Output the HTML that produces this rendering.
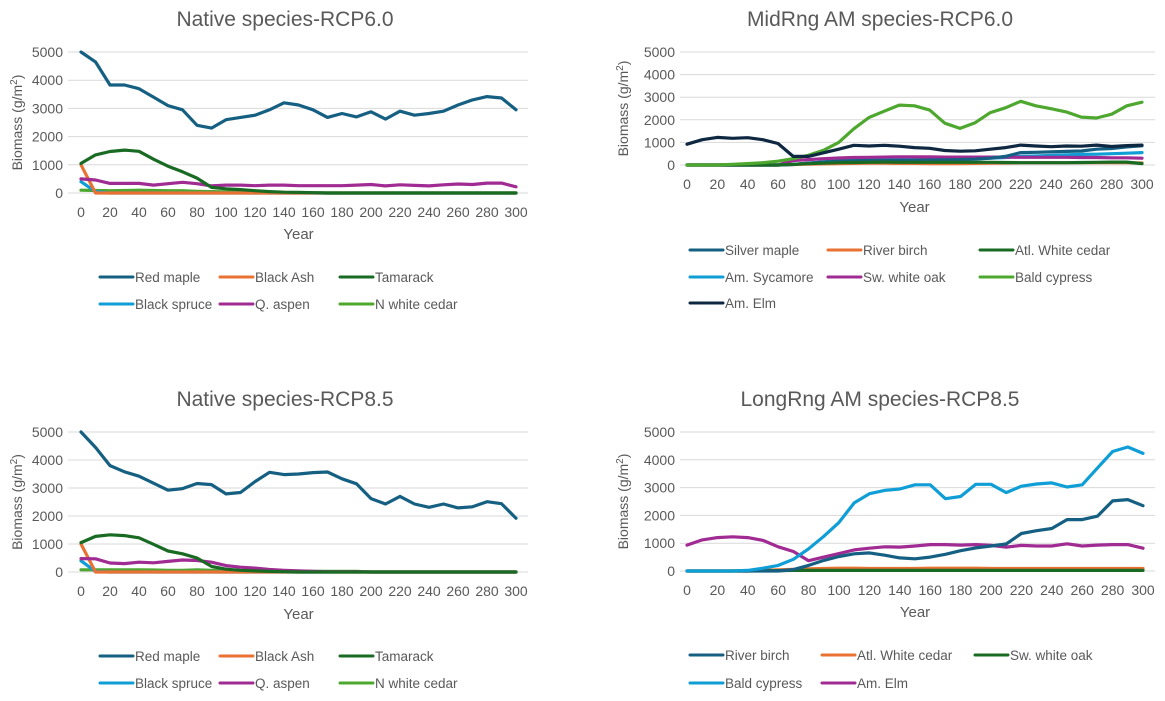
<!DOCTYPE html>
<html><head><meta charset="utf-8"><style>
body{margin:0;background:#fff;font-family:"Liberation Sans",sans-serif;}
svg{display:block}
text{font-family:"Liberation Sans",sans-serif;}
</style></head><body>
<svg id="svg" width="1165" height="701" viewBox="0 0 1165 701" xmlns="http://www.w3.org/2000/svg"></svg>
<script>
const years=[0,10,20,30,40,50,60,70,80,90,100,110,120,130,140,150,160,170,180,190,200,210,220,230,240,250,260,270,280,290,300];
const yTicks=[0,1000,2000,3000,4000,5000];
const xTicks=[0,20,40,60,80,100,120,140,160,180,200,220,240,260,280,300];
// Chart 1: Native species RCP6.0
const c1RedMaple=[5000,4650,3830,3830,3700,3400,3100,2950,2400,2300,2600,2680,2760,2950,3200,3120,2950,2680,2820,2700,2880,2620,2900,2760,2820,2900,3120,3300,3420,3370,2950];
const c1BlackAsh=[1000,0,0,0,0,0,0,0,0,0,0,0,0,0,0,0,0,0,0,0,0,0,0,0,0,0,0,0,0,0,0];
const c1Tamarack=[1050,1350,1470,1520,1480,1200,950,750,530,200,150,120,80,50,30,20,10,0,0,0,0,0,0,0,0,0,0,0,0,0,0];
const c1BlackSpruce=[400,50,0,0,0,0,0,0,0,0,0,0,0,0,0,0,0,0,0,0,0,0,0,0,0,0,0,0,0,0,0];
const c1Aspen=[500,460,340,340,340,280,330,380,330,250,280,280,260,280,280,260,260,260,260,280,300,250,290,270,250,290,320,300,350,350,220];
const c1Cedar=[100,90,80,90,100,90,80,80,60,50,40,30,20,20,10,10,10,0,0,0,0,0,0,0,0,0,0,0,0,0,0];
// Chart 2: MidRng AM RCP6.0
const c2SilverMaple=[0,0,0,0,0,0,0,20,80,130,170,190,200,200,200,210,220,230,240,260,300,380,550,560,580,600,620,700,730,800,850];
const c2RiverBirch=[0,0,0,0,0,0,0,20,40,50,60,70,80,80,70,70,60,60,60,70,80,90,100,100,100,100,100,100,100,100,90];
const c2AtlCedar=[0,0,0,0,0,0,0,30,60,80,100,110,120,130,120,120,120,120,120,120,120,110,100,100,100,100,110,120,130,130,60];
const c2Sycamore=[0,0,0,0,0,0,0,30,80,140,200,220,240,250,250,260,270,270,280,290,300,330,380,400,420,450,470,480,500,520,550];
const c2WhiteOak=[0,0,0,0,0,0,0,200,240,280,310,330,340,350,360,360,360,350,350,350,350,350,340,340,340,340,330,330,320,320,300];
const c2BaldCypress=[0,0,0,30,60,100,170,280,430,650,1000,1600,2100,2380,2650,2620,2430,1850,1620,1870,2320,2530,2820,2620,2490,2350,2120,2080,2250,2620,2780];
const c2AmElm=[920,1120,1220,1180,1210,1120,950,380,380,540,700,870,840,870,830,770,740,640,610,630,700,770,880,840,810,840,830,880,820,860,880];
// Chart 3: Native species RCP8.5
const c3RedMaple=[5000,4450,3800,3580,3420,3170,2920,2980,3160,3120,2790,2840,3230,3560,3480,3500,3550,3570,3330,3150,2620,2430,2700,2430,2310,2430,2290,2330,2510,2440,1920];
const c3BlackAsh=[1000,0,0,0,0,0,0,0,0,0,0,0,0,0,0,0,0,0,0,0,0,0,0,0,0,0,0,0,0,0,0];
const c3Tamarack=[1050,1270,1330,1300,1220,990,750,650,500,200,100,60,40,20,10,0,0,0,0,0,0,0,0,0,0,0,0,0,0,0,0];
const c3BlackSpruce=[400,20,0,0,0,0,0,0,0,0,0,0,0,0,0,0,0,0,0,0,0,0,0,0,0,0,0,0,0,0,0];
const c3Aspen=[480,470,320,300,350,330,380,430,410,350,230,170,140,90,60,40,20,10,10,10,0,0,0,0,0,0,0,0,0,0,0];
const c3Cedar=[80,80,80,80,80,70,60,60,80,60,60,50,40,40,30,30,20,20,20,20,0,0,0,0,0,0,0,0,0,0,0];
// Chart 4: LongRng AM RCP8.5
const c4RiverBirch=[0,0,0,0,0,0,0,50,200,380,520,620,650,570,470,440,500,600,730,830,900,970,1350,1450,1530,1850,1850,1970,2520,2570,2350];
const c4AtlCedar=[0,0,0,0,0,20,40,60,80,90,100,100,90,90,90,90,100,100,100,100,90,90,90,90,90,90,90,90,90,90,90];
const c4WhiteOak=[0,0,0,0,0,10,15,20,20,20,20,20,20,20,20,20,20,20,20,20,20,20,20,20,20,20,20,20,20,20,20];
const c4BaldCypress=[0,0,0,0,20,100,200,420,800,1250,1750,2450,2780,2900,2950,3100,3100,2600,2680,3120,3120,2820,3050,3130,3170,3020,3100,3700,4300,4460,4230];
const c4AmElm=[930,1120,1200,1230,1200,1100,870,700,370,500,630,760,820,870,860,900,950,950,930,950,920,860,920,900,900,980,900,930,950,950,820];

const C={dk:'#156082',or:'#E97132',dg:'#196B24',lb:'#0F9ED5',pu:'#A02B93',gr:'#4EA72E',nv:'#0E2841'};
const NS='http://www.w3.org/2000/svg';
const svg=document.getElementById('svg');
function mk(tag,attrs,parent){const e=document.createElementNS(NS,tag);for(const k in attrs)e.setAttribute(k,attrs[k]);(parent||svg).appendChild(e);return e;}

const charts=[
 {id:'native-rcp60',title:'Native species-RCP6.0',x0:81,x1:516,y0:193,y5:52,gl:68,gr:528,yearY:239,ytX:22,tx:285,
  series:[['Red maple',c1RedMaple,C.dk],['Black Ash',c1BlackAsh,C.or],['Tamarack',c1Tamarack,C.dg],['Black spruce',c1BlackSpruce,C.lb],['Q. aspen',c1Aspen,C.pu],['N  white cedar',c1Cedar,C.gr]],
  draw:[5,3,1,4,2,0],legX:[100,220,340],legY:[277,304],cols:3},
 {id:'midrng-rcp60',title:'MidRng AM species-RCP6.0',x0:687,x1:1142,y0:165,y5:52,gl:680,gr:1155,yearY:212,ytX:628,tx:880,
  series:[['Silver maple',c2SilverMaple,C.dk],['River birch',c2RiverBirch,C.or],['Atl. White cedar',c2AtlCedar,C.dg],['Am. Sycamore',c2Sycamore,C.lb],['Sw. white oak',c2WhiteOak,C.pu],['Bald cypress',c2BaldCypress,C.gr],['Am. Elm',c2AmElm,C.nv]],
  draw:[1,3,4,0,2,5,6],legX:[690,828,980],legY:[250,277,303],cols:3},
 {id:'native-rcp85',title:'Native species-RCP8.5',x0:81,x1:516,y0:572,y5:432,gl:68,gr:528,yearY:619,ytX:22,tx:285,
  series:[['Red maple',c3RedMaple,C.dk],['Black Ash',c3BlackAsh,C.or],['Tamarack',c3Tamarack,C.dg],['Black spruce',c3BlackSpruce,C.lb],['Q. aspen',c3Aspen,C.pu],['N  white cedar',c3Cedar,C.gr]],
  draw:[5,3,1,4,2,0],legX:[100,220,340],legY:[656,683],cols:3},
 {id:'longrng-rcp85',title:'LongRng AM species-RCP8.5',x0:687,x1:1143,y0:571,y5:432,gl:680,gr:1155,yearY:617,ytX:628,tx:880,
  series:[['River birch',c4RiverBirch,C.dk],['Atl. White cedar',c4AtlCedar,C.or],['Sw. white oak',c4WhiteOak,C.dg],['Bald cypress',c4BaldCypress,C.lb],['Am. Elm',c4AmElm,C.pu]],
  draw:[1,2,4,0,3],legX:[690,822,975],legY:[655,683],cols:3}
];

charts.forEach(ch=>{
  const g=mk('g',{});
  
  
  const xS=v=>ch.x0+(v-0)/300*(ch.x1-ch.x0);
  const yS=v=>ch.y0-(v/5000)*(ch.y0-ch.y5);
  const t=mk('text',{x:ch.tx,y:ch.y5-26,'text-anchor':'middle','font-size':21,fill:'#595959'},g);
  t.textContent=ch.title;
  
  
  yTicks.forEach(v=>{
    const l=mk('line',{x1:ch.gl,x2:ch.gr,y1:yS(v),y2:yS(v),stroke:'#d9d9d9','stroke-width':1},g);
    
    
    const tx=mk('text',{x:ch.gl-5,y:yS(v)+5,'text-anchor':'end','font-size':14,fill:'#595959'},g);
    tx.textContent=v;
    
    
  });
  xTicks.forEach(v=>{
    const tx=mk('text',{x:xS(v),y:ch.y0+24,'text-anchor':'middle','font-size':14,fill:'#595959'},g);
    tx.textContent=v;
    
    
  });
  const yt=mk('text',{x:0,y:0,transform:`translate(${ch.ytX},${(ch.y0+ch.y5)/2}) rotate(-90)`,'text-anchor':'middle','font-size':14,fill:'#595959'},g);
  yt.innerHTML='Biomass (g/m<tspan dy="-5" font-size="10">2</tspan><tspan dy="5">)</tspan>';
  
  
  const xt=mk('text',{x:xS(150),y:ch.yearY,'text-anchor':'middle','font-size':15,fill:'#595959'},g);
  xt.textContent='Year';
  
  
  ch.draw.forEach(i=>{
    const s=ch.series[i];
    const d=s[1].map((v,k)=>(k?'L':'M')+xS(years[k]).toFixed(1)+','+yS(v).toFixed(1)).join(' ');
    const p=mk('path',{d:d,fill:'none',stroke:s[2],'stroke-width':3.2,'stroke-linejoin':'round','stroke-linecap':'round'},g);
    
    
  });
  ch.series.forEach((s,i)=>{
    const lx=ch.legX[i%ch.cols], ly=ch.legY[Math.floor(i/ch.cols)];
    const lg=mk('g',{},g);
    
    
    mk('line',{x1:lx,x2:lx+33,y1:ly,y2:ly,stroke:s[2],'stroke-width':3,'stroke-linecap':'round'},lg);
    const tt=mk('text',{x:lx+35,y:ly+5,'font-size':13.5,fill:'#595959'},lg);
    tt.textContent=s[0];
  });
});
</script>
</body></html>
